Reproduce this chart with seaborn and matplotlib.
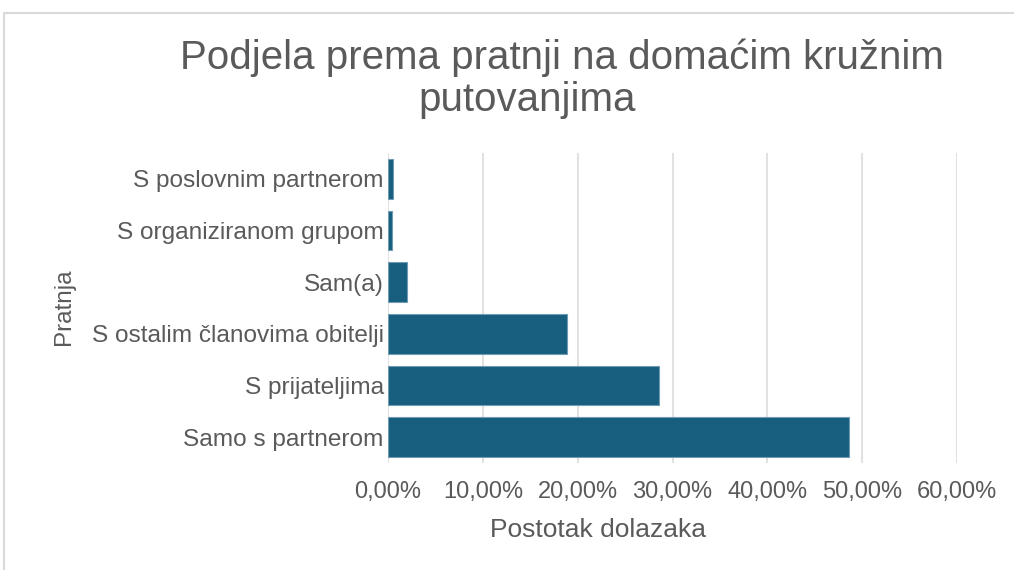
import pandas as pd
import seaborn as sns
import matplotlib.pyplot as plt
from matplotlib.ticker import FuncFormatter, MultipleLocator
from matplotlib.lines import Line2D

# data (percent of arrivals)
categories = ['S poslovnim partnerom', 'S organiziranom grupom', 'Sam(a)',
              'S ostalim članovima obitelji', 'S prijateljima', 'Samo s partnerom']
shares = [0.5, 0.45, 2.05, 18.9, 28.6, 48.6]

title_line1 = 'Podjela prema pratnji na domaćim kružnim'
title_line2 = 'putovanjima'
x_label = 'Postotak dolazaka'
y_label = 'Pratnja'

df = pd.DataFrame({'pratnja': categories, 'udio': shares})

sns.set_style('white')
plt.rcParams['font.family'] = ['Liberation Sans', 'DejaVu Sans']

W, H = 1014, 570
fig = plt.figure(figsize=(W / 100, H / 100), dpi=100)
ax = fig.add_axes([388 / W, 1 - 463 / H, (957 - 388) / W, (463 - 153) / H])

grey_txt = '#5a5a5a'
sns.barplot(data=df, y='pratnja', x='udio', color='#175e7f', width=0.77,
            saturation=1, edgecolor='#6f9bb3', linewidth=0.8, ax=ax, zorder=3)

ax.set_xlim(0, 60)
ax.set_ylim(5.5, -0.5)
ax.xaxis.set_major_locator(MultipleLocator(10))
ax.xaxis.set_major_formatter(FuncFormatter(lambda v, p: f'{v:.2f}%'.replace('.', ',')))
ax.grid(axis='x', color='#d9d9d9', linewidth=1.1, zorder=0)
ax.grid(axis='y', visible=False)
for s in ax.spines.values():
    s.set_visible(False)

ax.tick_params(axis='x', length=0, pad=13, labelsize=17, labelcolor=grey_txt)
ax.tick_params(axis='y', length=0, pad=3, labelsize=17.6, labelcolor=grey_txt)

ax.set_xlabel(x_label, fontsize=19, color=grey_txt)
ax.set_ylabel(y_label, fontsize=17.5, color=grey_txt)
ax.xaxis.set_label_coords((598 - 388) / (957 - 388), (463 - 518) / 310)
ax.yaxis.set_label_coords((75 - 388) / (957 - 388), (463 - 307) / 310)

fig.text(562 / W, 1 - 58 / H, title_line1, ha='center', va='center',
         fontsize=29, color=grey_txt)
fig.text(527 / W, 1 - 100 / H, title_line2, ha='center', va='center',
         fontsize=29, color=grey_txt)

# light frame of the chart area (cut at right and bottom in the reference)
fig.add_artist(Line2D([4 / W, 4 / W, 1.0], [0.0, 1 - 13 / H, 1 - 13 / H],
                      transform=fig.transFigure, color='#d9d9d9', linewidth=1.5))

fig.savefig('out.png', dpi=100)
